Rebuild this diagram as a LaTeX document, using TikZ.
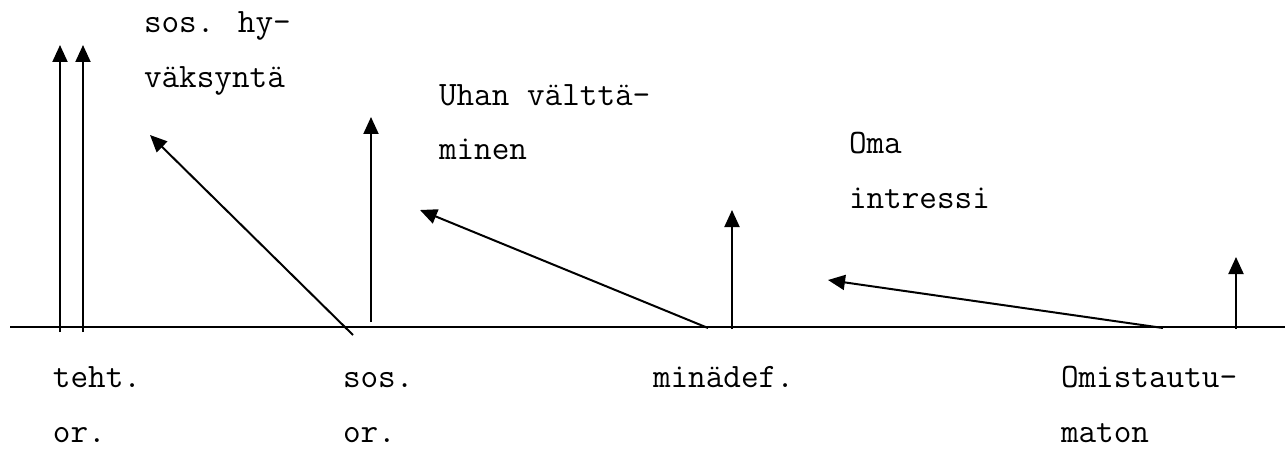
\documentclass[tikz,border=0pt]{standalone}
\usepackage{fontspec}
\usetikzlibrary{arrows.meta}

\begin{document}
\begin{tikzpicture}[x=0.5pt, y=-0.5pt, >={Triangle[width=7.5pt,length=8.5pt]}, line width=1pt,
    lbl/.style={anchor=base west, inner sep=0pt, font=\ttfamily\fontsize{17.1}{27.5}\selectfont, align=left}]
    \useasboundingbox (0,0) rectangle (1285,449);

    % axis
    \coordinate (L) at (10,327);
    \coordinate (R) at (1285,327);
    \draw (L) -- (R);

    % end points of the arrows
    \coordinate (T1a) at (60,332);   \coordinate (T1b) at (60,45);
    \coordinate (T2a) at (83,332);   \coordinate (T2b) at (83,45);
    \coordinate (D1a) at (353,335);  \coordinate (D1b) at (150,135);
    \coordinate (S1a) at (371,322);  \coordinate (S1b) at (371,117);
    \coordinate (D2a) at (708,328);  \coordinate (D2b) at (420,210);
    \coordinate (S2a) at (732,329);  \coordinate (S2b) at (732,210);
    \coordinate (D3a) at (1163,328); \coordinate (D3b) at (828,280);
    \coordinate (S3a) at (1236,329); \coordinate (S3b) at (1236,257);

    \draw[->] (T1a) -- (T1b);
    \draw[->] (T2a) -- (T2b);
    \draw[->] (D1a) -- (D1b);
    \draw[->] (S1a) -- (S1b);
    \draw[->] (D2a) -- (D2b);
    \draw[->] (S2a) -- (S2b);
    \draw[->] (D3a) -- (D3b);
    \draw[->] (S3a) -- (S3b);

    % upper labels (anchored at the last line)
    \node[lbl] (hyv) at (143,88) {sos. hy-\\väksyntä};
    \node[lbl] (uha) at (438,160) {Uhan välttä-\\minen};
    \node[lbl] (oma) at (848,208) {Oma\\intressi};

    % lower labels
    \node[lbl] (teh) at (52,442) {teht.\\or.};
    \node[lbl] (sos) at (342,442) {sos.\\or.};
    \node[lbl] (min) at (652,387) {minädef.};
    \node[lbl] (omi) at (1060,442) {Omistautu-\\maton};
\end{tikzpicture}
\end{document}
